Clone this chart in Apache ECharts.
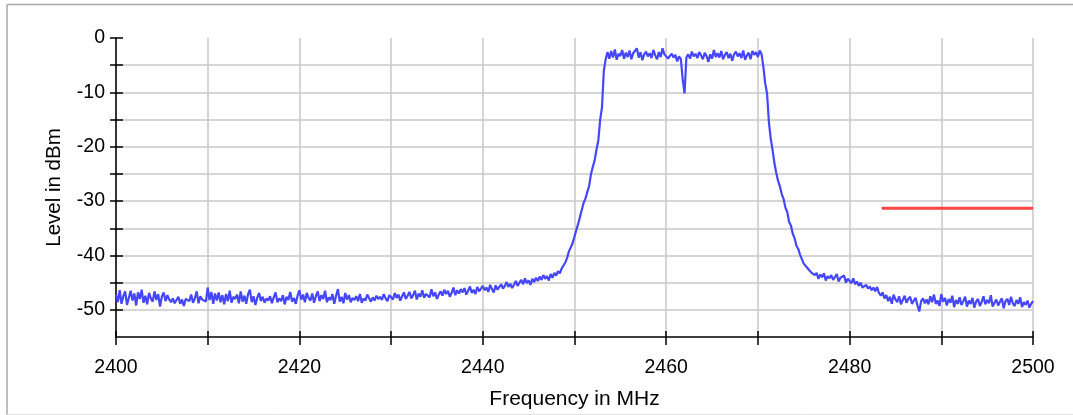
<!DOCTYPE html>
<html>
<head>
<meta charset="utf-8">
<script src="https://cdn.jsdelivr.net/npm/echarts@6/dist/echarts.min.js"></script>
<style>
html,body{margin:0;padding:0;background:#fff;}
#chart{width:1073px;height:415px;}
</style>
</head>
<body>
<div id="chart"></div>
<script>
// Spectrum trace: level in dBm, one sample every FREQ_STEP MHz starting at FREQ_START
const FREQ_START = 2400;
const FREQ_STEP = 0.2;
const LEVELS = [
  -47.2,-48.6,-46.4,-48.9,-47.5,-46.6,-49.1,-47.8,-46.5,-48.3,
  -47.0,-49.2,-46.8,-48.0,-46.3,-48.7,-47.4,-49.0,-46.9,-47.9,
  -48.5,-46.6,-48.2,-47.1,-49.4,-47.6,-46.8,-48.4,-47.3,-48.1,
  -48.6,-47.9,-48.8,-48.2,-47.6,-48.9,-48.1,-49.3,-48.0,-47.7,
  -48.4,-47.2,-48.7,-47.9,-46.6,-48.8,-47.5,-48.1,-47.8,-48.5,
  -45.9,-48.2,-46.7,-48.9,-47.0,-48.3,-46.8,-48.6,-47.3,-49.0,
  -47.1,-48.4,-46.5,-48.7,-47.6,-48.0,-47.2,-48.8,-46.6,-48.5,
  -47.4,-48.9,-47.1,-46.3,-48.6,-47.5,-49.1,-47.8,-46.9,-48.4,
  -47.6,-48.7,-47.9,-48.3,-47.5,-48.8,-47.7,-46.8,-48.6,-47.9,
  -48.4,-47.3,-49.0,-47.6,-48.2,-46.7,-48.5,-47.8,-48.9,-47.4,
  -46.4,-48.1,-47.2,-48.6,-46.9,-47.8,-48.3,-47.0,-48.7,-47.5,
  -46.6,-48.4,-47.3,-48.0,-46.5,-48.6,-47.7,-48.2,-47.1,-48.9,
  -47.4,-46.2,-48.5,-47.6,-48.8,-46.9,-48.1,-47.3,-48.6,-47.8,
  -48.2,-47.5,-48.4,-47.1,-48.7,-47.9,-48.3,-47.2,-47.0,-48.5,
  -47.7,-48.3,-47.4,-48.0,-47.6,-48.2,-47.1,-47.9,-48.4,-47.3,
  -47.6,-48.1,-46.9,-47.8,-47.2,-48.3,-47.5,-46.8,-48.0,-47.4,
  -46.7,-47.9,-47.3,-46.5,-48.1,-47.0,-47.6,-46.4,-47.8,-47.1,
  -46.9,-47.7,-46.2,-47.5,-46.8,-48.0,-47.2,-46.6,-47.4,-46.3,
  -47.1,-46.5,-47.6,-46.9,-45.9,-47.3,-46.4,-47.0,-46.2,-46.8,
  -46.0,-47.2,-46.5,-45.7,-46.9,-46.3,-47.1,-45.8,-46.6,-46.1,
  -45.6,-46.4,-45.9,-46.7,-45.4,-46.2,-46.8,-45.5,-46.3,-45.8,
  -45.3,-46.1,-45.6,-44.9,-45.8,-45.2,-46.0,-45.4,-44.7,-45.6,
  -45.0,-44.5,-45.3,-44.2,-45.1,-44.6,-45.4,-44.3,-44.9,-44.1,
  -44.7,-43.9,-44.5,-43.6,-44.3,-43.8,-44.6,-43.4,-44.1,-43.2,
  -43.7,-42.9,-43.3,-42.4,-42.1,-41.3,-40.4,-39.2,-38.5,-37.7,
  -36.5,-35.3,-34.2,-32.9,-31.6,-30.3,-29.5,-28.3,-27.2,-25.0,
  -23.7,-22.5,-20.5,-18.8,-15.0,-12.7,-6.0,-3.9,-2.6,-3.8,
  -2.4,-3.6,-2.1,-4.0,-2.9,-3.3,-2.2,-3.8,-2.7,-3.5,
  -2.3,-3.9,-2.8,-3.1,-1.9,-3.6,-2.6,-4.1,-3.0,-2.5,
  -3.4,-2.8,-3.7,-2.2,-3.2,-3.9,-2.6,-3.5,-1.9,-3.0,
  -2.7,-3.8,-3.3,-2.9,-3.6,-3.1,-4.3,-3.4,-3.9,-7.6,
  -10.2,-3.6,-3.0,-3.8,-2.5,-3.4,-2.9,-3.7,-2.6,-3.2,
  -3.9,-2.7,-3.3,-4.4,-3.0,-3.8,-2.2,-3.5,-2.8,-3.6,
  -2.4,-3.9,-3.1,-2.6,-3.7,-2.9,-4.2,-3.0,-2.5,-3.4,
  -2.8,-3.7,-2.3,-4.0,-3.2,-2.7,-3.9,-2.4,-3.1,-2.6,
  -3.5,-2.3,-3.0,-5.3,-8.4,-10.2,-15.5,-18.5,-20.6,-23.0,
  -24.8,-26.3,-27.3,-28.7,-29.6,-31.2,-32.0,-33.8,-34.5,-36.0,
  -36.8,-38.2,-38.8,-39.9,-40.2,-41.5,-41.2,-42.3,-42.0,-43.1,
  -42.8,-43.6,-43.2,-44.3,-43.5,-44.0,-43.3,-44.6,-43.8,-44.2,
  -43.6,-44.5,-44.0,-43.4,-44.8,-44.1,-44.4,-43.7,-45.0,-44.3,
  -44.6,-45.1,-44.2,-45.3,-44.8,-45.6,-45.0,-45.9,-46.2,-45.4,
  -46.1,-45.7,-46.4,-45.9,-46.6,-45.8,-46.9,-47.4,-46.8,-47.9,
  -47.3,-48.4,-47.6,-48.9,-47.2,-48.1,-48.6,-47.5,-49.0,-48.2,
  -47.4,-48.7,-48.0,-47.6,-48.9,-48.3,-47.8,-49.2,-50.3,-48.4,
  -47.9,-48.8,-48.1,-49.0,-47.5,-48.6,-47.2,-48.9,-48.3,-49.3,
  -47.1,-48.5,-47.8,-49.2,-48.0,-48.7,-47.4,-49.5,-48.2,-48.9,
  -47.7,-49.1,-48.4,-47.6,-49.4,-48.3,-48.9,-47.8,-49.6,-48.5,
  -48.0,-49.3,-48.6,-47.5,-49.0,-48.2,-48.8,-47.3,-49.4,-48.7,
  -48.1,-49.2,-48.5,-47.9,-49.7,-48.4,-48.0,-49.1,-47.6,-48.8,
  -49.3,-48.2,-48.9,-47.7,-49.5,-48.6,-49.1,-48.3,-49.6,-48.9,
  -48.4
];

// Limit line (red)
const LIMIT_FREQS = [2483.5, 2500];
const LIMIT_LEVELS = [-31.3, -31.3];

// Axis ticks / labels
const X_LABELS = [2400, 2420, 2440, 2460, 2480, 2500];
const Y_LABELS = [0, -10, -20, -30, -40, -50];
const Y_TICKS = [0, -5, -10, -15, -20, -25, -30, -35, -40, -45, -50];

const FONT = "'Liberation Sans', Arial, Helvetica, sans-serif";

const traceData = LEVELS.map((v, i) => [+(FREQ_START + i * FREQ_STEP).toFixed(1), v]);
const limitData = LIMIT_FREQS.map((f, i) => [f, LIMIT_LEVELS[i]]);

const chart = echarts.init(document.getElementById('chart'), null, {renderer: 'canvas'});

const xBase = {type: 'value', min: 2400, max: 2500, interval: 10, gridIndex: 0};
const yBase = {type: 'value', min: -55, max: 0, interval: 5, gridIndex: 0};
const plain = v => String(v);

chart.setOption({
  animation: false,
  backgroundColor: '#ffffff',
  grid: {left: 116, right: 40, top: 38, bottom: 76, containLabel: false},
  graphic: [
    {type: 'line', shape: {x1: 7, y1: 4.5, x2: 1073, y2: 4.5}, style: {stroke: '#a9a9a9', lineWidth: 1.5}, silent: true},
    {type: 'line', shape: {x1: 7, y1: 4.5, x2: 7, y2: 415}, style: {stroke: '#a9a9a9', lineWidth: 1.5}, silent: true},
    {type: 'line', shape: {x1: 7, y1: 414.5, x2: 1073, y2: 414.5}, style: {stroke: '#e2e2e2', lineWidth: 1}, silent: true}
  ],
  xAxis: [
    Object.assign({}, xBase, {
      position: 'bottom',
      name: 'Frequency in MHz',
      nameLocation: 'middle',
      nameGap: 52,
      nameTextStyle: {color: '#000', fontSize: 21, fontFamily: FONT},
      axisLine: {show: true, onZero: false, lineStyle: {color: '#000', width: 1.5}},
      axisTick: {show: true, inside: false, length: 8, lineStyle: {color: '#000', width: 1.5}},
      axisLabel: {show: true, customValues: X_LABELS, formatter: plain, color: '#000', fontSize: 19.5, fontFamily: FONT, margin: 21},
      splitLine: {show: true, lineStyle: {color: '#c8c8c8', width: 1.5}}
    }),
    Object.assign({}, xBase, {
      position: 'bottom',
      axisLine: {show: false, onZero: false},
      axisTick: {show: true, inside: true, length: 6, lineStyle: {color: '#000', width: 1.5}},
      axisLabel: {show: false},
      splitLine: {show: false}
    })
  ],
  yAxis: [
    Object.assign({}, yBase, {
      position: 'left',
      name: 'Level in dBm',
      nameLocation: 'middle',
      nameGap: 51,
      nameTextStyle: {color: '#000', fontSize: 20.5, fontFamily: FONT},
      axisLine: {show: true, onZero: false, lineStyle: {color: '#000', width: 1.5}},
      axisTick: {show: true, inside: false, length: 6, customValues: Y_TICKS, lineStyle: {color: '#000', width: 1.5}},
      axisLabel: {show: true, customValues: Y_LABELS, formatter: plain, color: '#000', fontSize: 19.5, fontFamily: FONT, margin: 11},
      splitLine: {show: true, showMinLine: false, lineStyle: {color: '#c8c8c8', width: 1.5}}
    }),
    Object.assign({}, yBase, {
      position: 'left',
      axisLine: {show: false, onZero: false},
      axisTick: {show: true, inside: true, length: 7, customValues: Y_TICKS, lineStyle: {color: '#000', width: 1.5}},
      axisLabel: {show: false},
      splitLine: {show: false}
    })
  ],
  series: [
    {
      type: 'line',
      xAxisIndex: 0,
      yAxisIndex: 0,
      data: traceData,
      showSymbol: false,
      symbol: 'none',
      lineStyle: {color: '#4646ff', width: 2.2},
      itemStyle: {color: '#4646ff'},
      z: 3
    },
    {
      type: 'line',
      xAxisIndex: 0,
      yAxisIndex: 0,
      data: limitData,
      showSymbol: false,
      symbol: 'none',
      lineStyle: {color: '#ff4444', width: 3},
      itemStyle: {color: '#ff4444'},
      z: 4
    }
  ]
});
</script>
</body>
</html>
